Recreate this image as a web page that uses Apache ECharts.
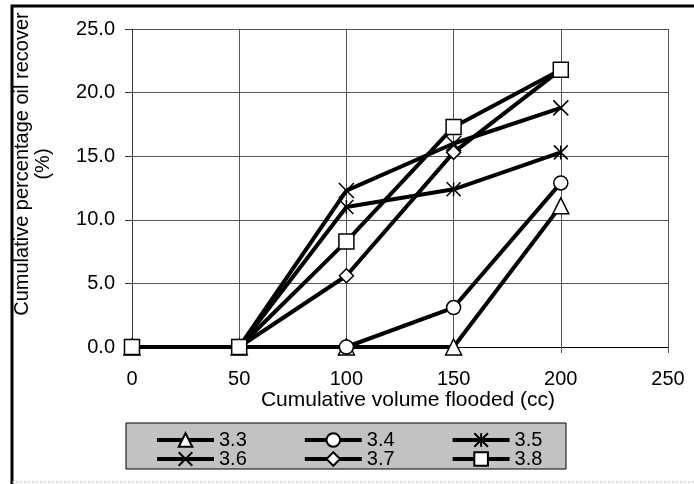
<!DOCTYPE html>
<html>
<head>
<meta charset="utf-8">
<script src="https://cdn.jsdelivr.net/npm/echarts@6/dist/echarts.min.js"></script>
<style>
  html, body { margin: 0; padding: 0; background: #fff; }
  #chart-wrapper { width: 694px; height: 484px; }
</style>
</head>
<body>
<div id="chart-wrapper"></div>
<script>
// cumulative volume flooded (cc)
const volumes = [0, 50, 100, 150, 200];
// cumulative oil recovery (%) per series
const s33 = [0, 0, 0, 0, 11.1];
const s34 = [0, 0, 0, 3.1, 12.9];
const s35 = [0, 0, 11.0, 12.4, 15.3];
const s36 = [0, 0, 12.3, 16.0, 18.8];
const s37 = [0, 0, 5.6, 15.3, 21.8];
const s38 = [0, 0, 8.3, 17.3, 21.8];
const seriesNames = ["3.3", "3.4", "3.5", "3.6", "3.7", "3.8"];

const FONT = "Liberation Sans, Arial, sans-serif";

const ASTERISK = "path://M0,0L10,10M10,0L0,10M5,0L5,10";
const CROSS = "path://M0,0L10,10M10,0L0,10";

const pairs = (ys) => volumes.map((x, i) => [x, ys[i]]);

const mkSeries = (name, ys, symbol, size) => ({
  name: name,
  type: "line",
  data: pairs(ys),
  symbol: symbol,
  symbolSize: size,
  showAllSymbol: true,
  lineStyle: { color: "#000", width: 4 },
  itemStyle: { color: "#fff", borderColor: "#000", borderWidth: 1.5 },
  emphasis: { disabled: true },
  animation: false,
});

const chart = echarts.init(document.getElementById("chart-wrapper"));

const legendBase = {
  orient: "horizontal",
  padding: 0,
  itemWidth: 57,
  itemHeight: 17,
  itemGap: 56,
  z: 10,
  selectedMode: false,
  lineStyle: { color: "#000", width: 4 },
  textStyle: { fontFamily: FONT, fontSize: 20, color: "#000", width: 30 },
};

const option = {
  backgroundColor: "#fff",
  animation: false,
  grid: { left: 132, right: 26, top: 29, bottom: 137 },
  xAxis: {
    type: "value",
    min: 0,
    max: 250,
    interval: 50,
    axisLine: { show: true, onZero: false, lineStyle: { color: "#000", width: 1 } },
    axisTick: { show: true, length: 6, lineStyle: { color: "#555" } },
    axisLabel: { fontFamily: FONT, fontSize: 20, color: "#000", margin: 22 },
    splitLine: { show: true, lineStyle: { color: "#555", width: 1 } },
  },
  yAxis: {
    type: "value",
    min: 0,
    max: 25,
    interval: 5,
    axisLine: { show: true, lineStyle: { color: "#333", width: 1 } },
    axisTick: { show: true, length: 7, lineStyle: { color: "#333" } },
    axisLabel: {
      fontFamily: FONT,
      fontSize: 20,
      color: "#000",
      margin: 17,
      formatter: (v) => v.toFixed(1),
    },
    splitLine: { show: true, lineStyle: { color: "#555", width: 1 } },
  },
  legend: [
    Object.assign({}, legendBase, { data: ["3.3", "3.4", "3.5"], left: 155, top: 430 }),
    Object.assign({}, legendBase, { data: ["3.6", "3.7", "3.8"], left: 155, top: 449 }),
  ],
  graphic: [
    // outer frame
    {
      type: "polyline",
      z: 0,
      shape: { points: [[12, 484], [12, 6], [694, 6]] },
      style: { stroke: "#000", lineWidth: 3, fill: null },
    },
    {
      type: "line",
      z: 0,
      shape: { x1: 12, y1: 482, x2: 694, y2: 482 },
      style: { stroke: "#bbb", lineWidth: 1, lineDash: [2, 2] },
    },
    // legend box
    {
      type: "rect",
      z: 0,
      shape: { x: 126, y: 423, width: 440, height: 46 },
      style: { fill: "#c2c2c2", stroke: "#000", lineWidth: 1 },
    },
    // y axis title
    {
      type: "text",
      x: 33,
      y: 164,
      rotation: Math.PI / 2,
      style: {
        text: "Cumulative percentage oil recover\n(%)",
        font: "20px " + FONT,
        fill: "#000",
        align: "center",
        verticalAlign: "middle",
        lineHeight: 21,
      },
    },
    // x axis title
    {
      type: "text",
      x: 408,
      y: 400,
      style: {
        text: "Cumulative volume flooded (cc)",
        font: "21px " + FONT,
        fill: "#000",
        align: "center",
        verticalAlign: "middle",
      },
    },
  ],
  series: [
    mkSeries(seriesNames[0], s33, "triangle", 16),
    mkSeries(seriesNames[1], s34, "circle", 14),
    mkSeries(seriesNames[2], s35, ASTERISK, 14),
    mkSeries(seriesNames[3], s36, CROSS, 15),
    mkSeries(seriesNames[4], s37, "diamond", 14),
    mkSeries(seriesNames[5], s38, "rect", 15),
  ],
};

chart.setOption(option);
</script>
</body>
</html>
